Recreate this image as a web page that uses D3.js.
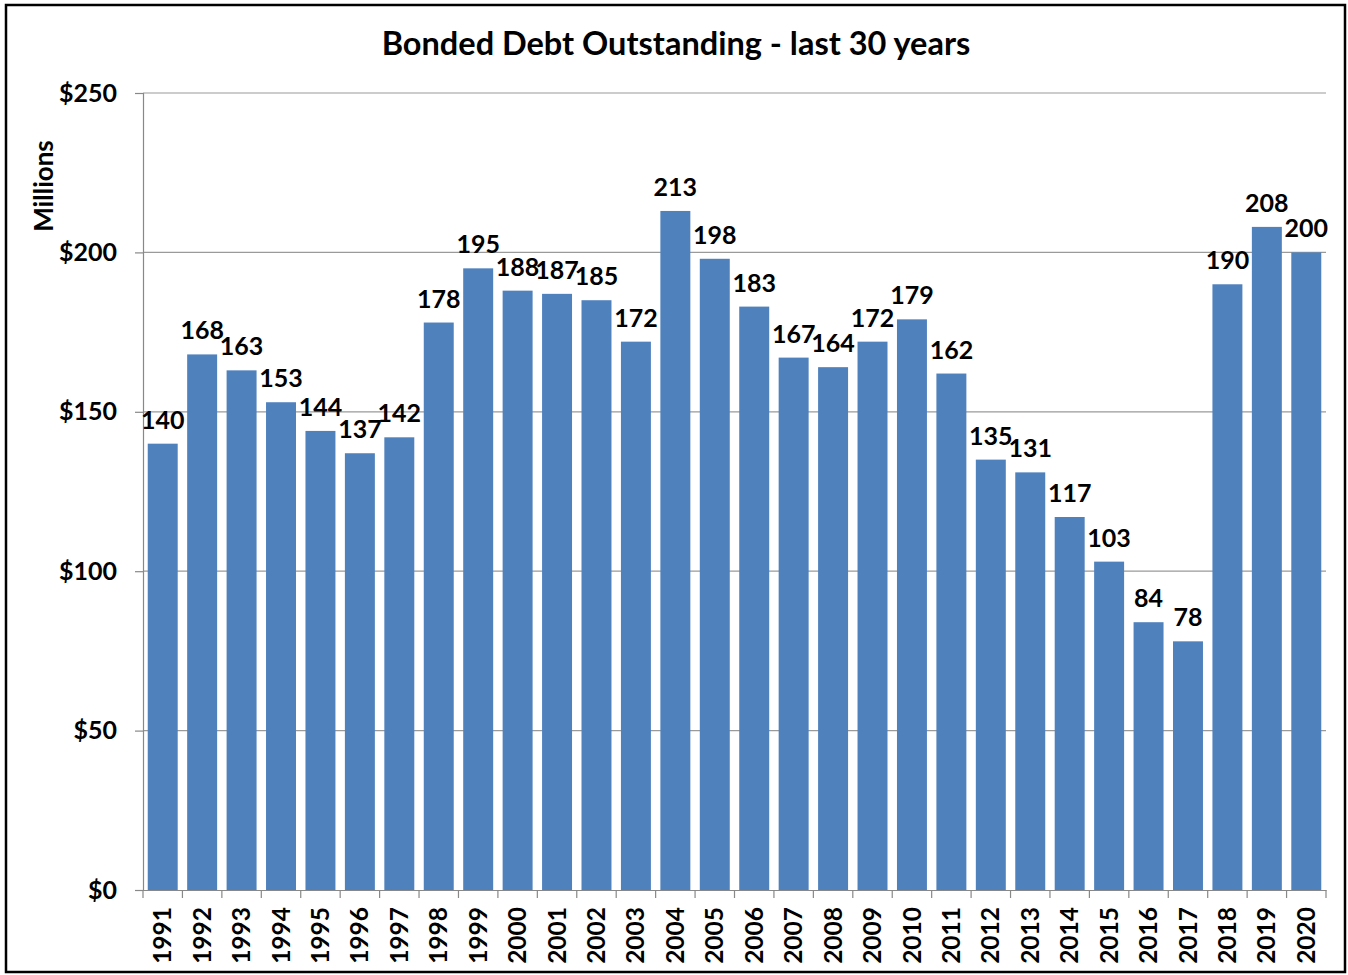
<!DOCTYPE html>
<html><head><meta charset="utf-8">
<script src="https://cdn.jsdelivr.net/npm/d3@7"></script>
<style>body{margin:0;background:#fff;}svg{display:block;}</style>
</head><body>
<script>
const years = ["1991","1992","1993","1994","1995","1996","1997","1998","1999","2000","2001","2002","2003","2004","2005","2006","2007","2008","2009","2010","2011","2012","2013","2014","2015","2016","2017","2018","2019","2020"];
const debt = [140,168,163,153,144,137,142,178,195,188,187,185,172,213,198,183,167,164,172,179,162,135,131,117,103,84,78,190,208,200];
const yTicks = [0,50,100,150,200,250];
const title = "Bonded Debt Outstanding - last 30 years";
const yTitle = "Millions";

const W = 1348, H = 975;
const font = "Lato, 'Open Sans', sans-serif";
const svg = d3.select("body").append("svg").attr("width", W).attr("height", H);
svg.append("rect").attr("x",6).attr("y",5).attr("width",1339).attr("height",967)
  .attr("fill","#fff").attr("stroke","#000").attr("stroke-width",2.5);

const x0 = 143, x1 = 1326, yTop = 93, yBot = 890;
const x = d3.scaleBand().domain(years).range([x0, x1]).paddingInner(0.24).paddingOuter(0.12);
const y = d3.scaleLinear().domain([0,250]).range([yBot, yTop]);

// gridlines
svg.append("g").selectAll("line").data(yTicks.filter(d=>d>0)).join("line")
  .attr("x1", x0).attr("x2", x1).attr("y1", d=>y(d)).attr("y2", d=>y(d))
  .attr("stroke","#9a9a9a").attr("stroke-width",1.2);

// bars
svg.append("g").selectAll("rect").data(debt).join("rect")
  .attr("x",(d,i)=>x(years[i])).attr("width",x.bandwidth())
  .attr("y",d=>y(d)).attr("height",d=>yBot-y(d)).attr("fill","#4F81BD");

// y axis
const ya = svg.append("g").attr("transform",`translate(${x0},0)`)
  .call(d3.axisLeft(y).tickValues(yTicks).tickFormat(d=>"$"+d).tickSize(8).tickPadding(18));
ya.select(".domain").attr("stroke","#888").attr("stroke-width",1.2);
ya.selectAll(".tick line").attr("stroke","#888").attr("stroke-width",1.2);
ya.selectAll("text").attr("font-family",font).attr("font-weight","bold").attr("font-size",25).attr("fill","#000");

// x axis
const xa = svg.append("g").attr("transform",`translate(0,${yBot})`)
  .call(d3.axisBottom(x).tickSize(0).tickPadding(0));
xa.select(".domain").attr("stroke","#888").attr("stroke-width",1.2);
xa.selectAll(".tick text").attr("font-family",font).attr("font-weight","bold").attr("font-size",24.5).attr("fill","#000")
  .attr("transform","rotate(-90)").attr("text-anchor","end").attr("dy","0.35em").attr("x",-17).attr("y",0);
// boundary tick marks
const bounds = years.map(d=>x(d) - x.step()*x.paddingInner()/2).concat([x1]);
bounds[0] = x0;
svg.append("g").selectAll("line").data(bounds).join("line")
  .attr("x1",d=>d).attr("x2",d=>d).attr("y1",yBot).attr("y2",yBot+8)
  .attr("stroke","#888").attr("stroke-width",1.2);

// labels
svg.append("g").selectAll("text").data(debt).join("text")
  .attr("x",(d,i)=>x(years[i])+x.bandwidth()/2).attr("y",d=>y(d)-15)
  .attr("text-anchor","middle").attr("font-family",font).attr("font-weight","bold")
  .attr("font-size",25).attr("fill","#000").text(d=>d);

// title
svg.append("text").attr("x",676).attr("y",55).attr("text-anchor","middle")
  .attr("font-family",font).attr("font-weight","bold").attr("font-size",32.5).text(title);
svg.append("text").attr("transform","translate(53,186) rotate(-90)").attr("text-anchor","middle")
  .attr("font-family",font).attr("font-weight","bold").attr("font-size",26).text(yTitle);
</script>
</body></html>
